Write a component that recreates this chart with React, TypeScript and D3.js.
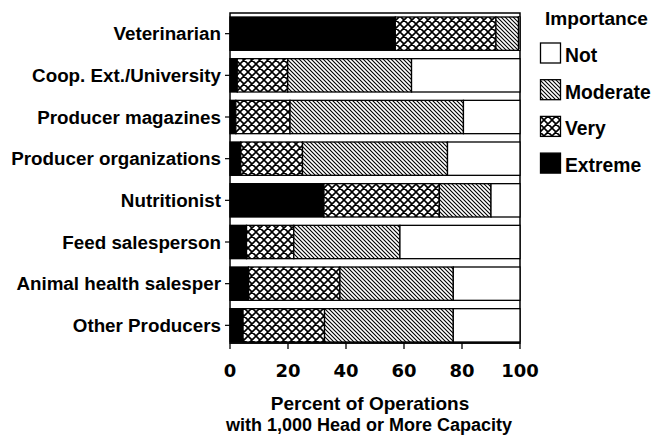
import React from "react";
import * as d3 from "d3";

// Sources of information, top to bottom
const sources = [
  "Veterinarian",
  "Coop. Ext./University",
  "Producer magazines",
  "Producer organizations",
  "Nutritionist",
  "Feed salesperson",
  "Animal health salesper",
  "Other Producers",
];

// percent of operations per importance level (stack order left -> right)
const extreme = [57, 2.5, 2, 3.7, 32.4, 5.7, 6.4, 4.5];
const very = [34.7, 17.4, 18.7, 21.3, 39.8, 16.3, 31.5, 28.1];
const moderate = [7.8, 42.7, 59.8, 50, 17.8, 36.6, 39.1, 44.4];
const notImp = [0.5, 37.4, 19.5, 25, 10, 41.4, 23, 23];

const levels = ["Extreme", "Very", "Moderate", "Not"];
const legendOrder = ["Not", "Moderate", "Very", "Extreme"];
const xTicks = [0, 20, 40, 60, 80, 100];

const TICK_FONT = "'DejaVu Sans', sans-serif";
const FONT = "'Liberation Sans', Arial, sans-serif";

const fills: Record<string, string> = {
  Extreme: "#000",
  Very: "url(#pat-very)",
  Moderate: "url(#pat-mod)",
  Not: "#fff",
};

export default function App() {
  const width = 669;
  const height = 436;
  const plot = { left: 230, right: 520, top: 13, bottom: 343 };

  const x = d3.scaleLinear().domain([0, 100]).range([plot.left, plot.right]);
  const y = d3
    .scaleBand<string>()
    .domain(sources)
    .range([17, 342])
    .paddingInner(0.2)
    .paddingOuter(0);

  const table = sources.map((s, i) => ({
    source: s,
    Extreme: extreme[i],
    Very: very[i],
    Moderate: moderate[i],
    Not: notImp[i],
  }));
  const stacked = d3.stack<any>().keys(levels)(table);

  return (
    <svg
      width={width}
      height={height}
      style={{ position: "absolute", left: 0, top: 0, background: "#fff" }}
      fontFamily={FONT}
      fontWeight="bold"
    >
      <defs>
        <pattern id="pat-mod" width={4} height={4} patternUnits="userSpaceOnUse">
          <rect width={4} height={4} fill="#fff" />
          <path d="M-1,-1 L5,5 M-1,3 L1,5 M3,-1 L5,1" stroke="#000" strokeWidth={1.1} />
        </pattern>
        <pattern id="pat-very" width={8} height={8} patternUnits="userSpaceOnUse">
          <rect width={8} height={8} fill="#fff" />
          <path
            d="M-1,-1 L9,9 M-1,7 L1,9 M7,-1 L9,1 M9,-1 L-1,9 M-1,1 L1,-1 M7,9 L9,7"
            stroke="#000"
            strokeWidth={1.6}
          />
        </pattern>
      </defs>

      {/* frame */}
      <rect
        x={plot.left}
        y={plot.top}
        width={plot.right - plot.left}
        height={plot.bottom - plot.top}
        fill="#fff"
        stroke="#000"
        strokeWidth={1.5}
      />

      {/* bars */}
      {stacked.map((layer) => (
        <g key={layer.key}>
          {layer.map((d, i) => (
            <rect
              key={i}
              x={x(d[0])}
              y={y(sources[i])}
              width={Math.max(0, x(d[1]) - x(d[0]))}
              height={y.bandwidth()}
              fill={fills[layer.key]}
              stroke="#000"
              strokeWidth={1.3}
            />
          ))}
        </g>
      ))}

      {/* y axis ticks and labels */}
      {sources.map((s) => {
        const cy = (y(s) as number) + y.bandwidth() / 2;
        return (
          <g key={s}>
            <line x1={plot.left - 5} x2={plot.left} y1={cy} y2={cy} stroke="#000" strokeWidth={1.2} />
            <text x={plot.left - 9} y={cy} dy="0.36em" textAnchor="end" fontSize={18.8}>
              {s}
            </text>
          </g>
        );
      })}

      {/* x axis */}
      <line x1={plot.left} x2={plot.right} y1={plot.bottom} y2={plot.bottom} stroke="#000" strokeWidth={1.5} />
      {xTicks.map((t) => (
        <g key={t}>
          <line x1={x(t)} x2={x(t)} y1={plot.bottom} y2={plot.bottom + 6} stroke="#000" strokeWidth={1.3} />
          <text x={x(t)} y={377} textAnchor="middle" fontSize={18} fontFamily={TICK_FONT}>
            {t}
          </text>
        </g>
      ))}
      <text x={370} y={410} textAnchor="middle" fontSize={19}>
        Percent of Operations
      </text>
      <text x={369} y={431} textAnchor="middle" fontSize={18}>
        with 1,000 Head or More Capacity
      </text>

      {/* legend */}
      <text x={545} y={25} fontSize={19.1}>
        Importance
      </text>
      {legendOrder.map((k, i) => {
        const top = 43 + i * 36.7;
        return (
          <g key={k}>
            <rect x={540.5} y={top} width={20} height={20} fill={fills[k]} stroke="#000" strokeWidth={1.3} />
            <text x={565} y={top + 19} fontSize={19.3}>
              {k}
            </text>
          </g>
        );
      })}
    </svg>
  );
}
